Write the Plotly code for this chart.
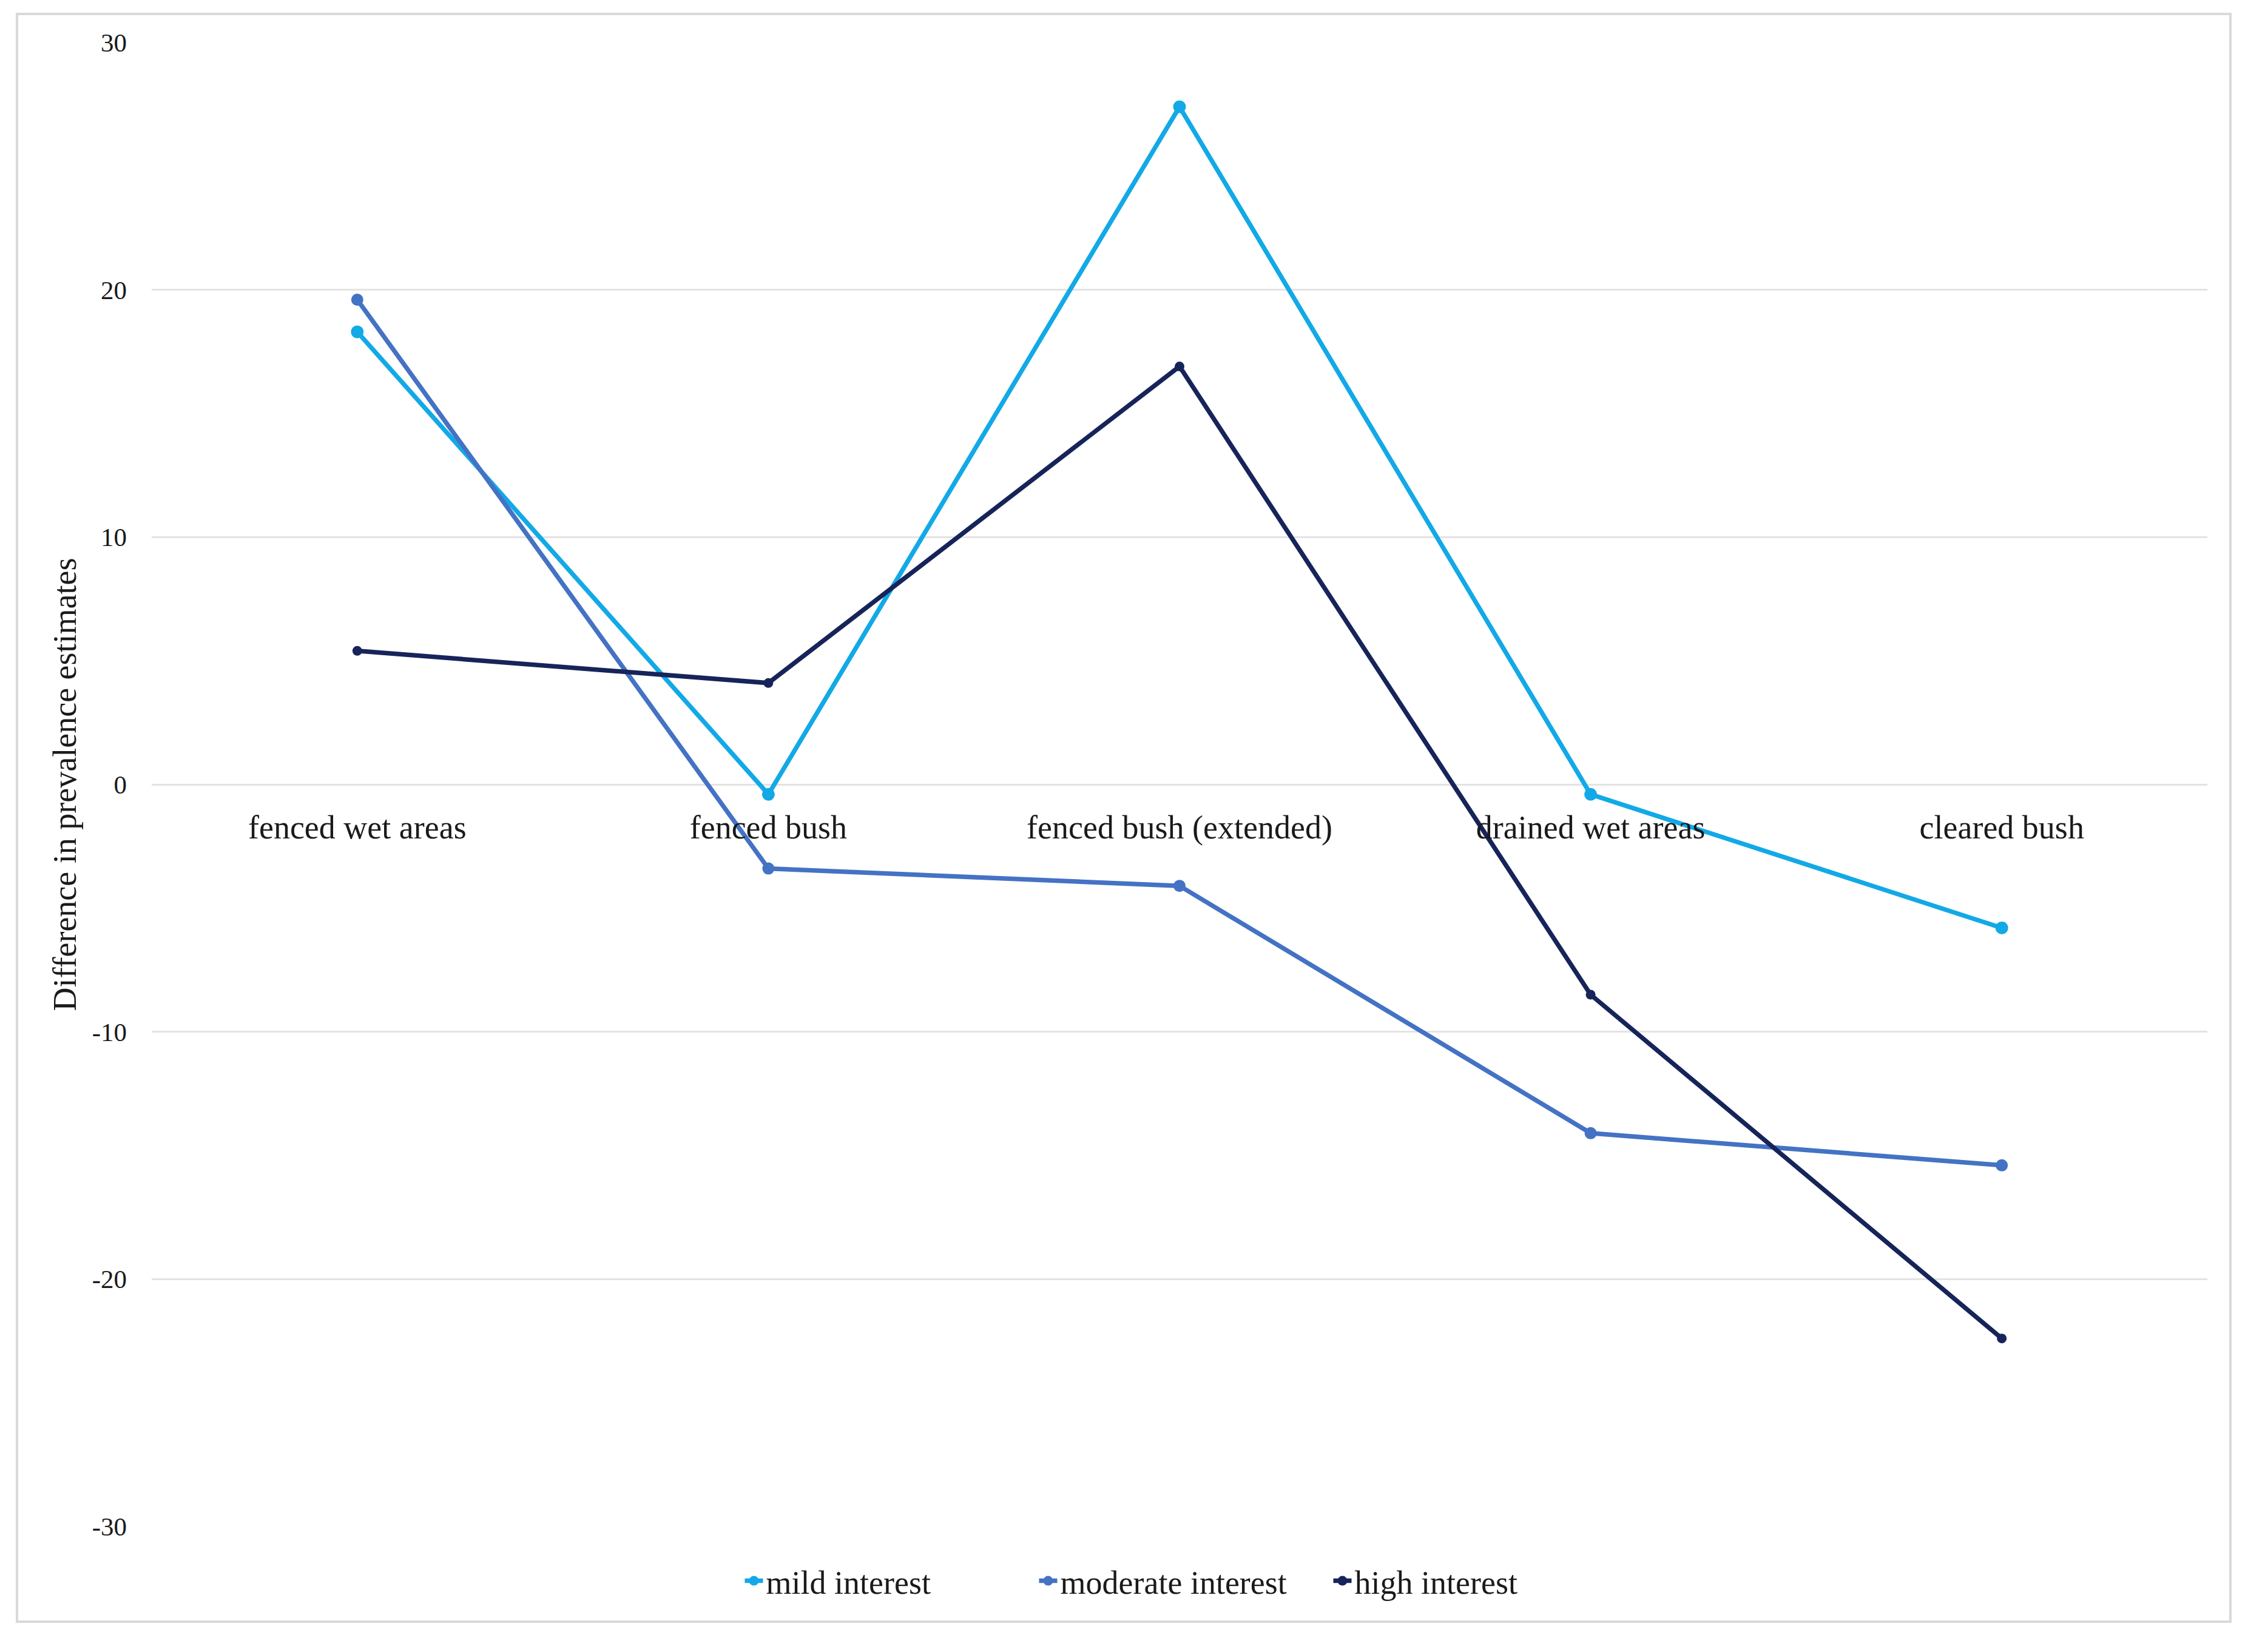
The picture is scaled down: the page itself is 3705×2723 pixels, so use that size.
import plotly.graph_objects as go

categories = ["fenced wet areas", "fenced bush", "fenced bush (extended)", "drained wet areas", "cleared bush"]
mild_interest = [18.3, -0.4, 27.4, -0.4, -5.8]
moderate_interest = [19.6, -3.4, -4.1, -14.1, -15.4]
high_interest = [5.4, 4.1, 16.9, -8.5, -22.4]
y_ticks = [-30, -20, -10, 0, 10, 20, 30]
y_tick_labels = [str(v) for v in y_ticks]

series = [
    ("mild interest", mild_interest, "#12A9E6", 21),
    ("moderate interest", moderate_interest, "#4472C4", 20),
    ("high interest", high_interest, "#16245A", 16),
]

FONT = "Liberation Serif, Times New Roman, serif"

fig = go.Figure()
for name, vals, color, msize in series:
    fig.add_trace(go.Scatter(
        x=categories, y=vals, name=name, mode="lines+markers",
        line=dict(color=color, width=7.5),
        marker=dict(color=color, size=msize, symbol="circle"),
    ))

OFF = 8  # page body margin offset
W, H = 3705, 2723
L, R, T, B = 250 - OFF, 67 + OFF, 70 - OFF, 207 + OFF
pw, ph = W - L - R, H - T - B

def px_x(p):
    return (p - OFF - L) / pw

def px_y(p):
    return (H - B - (p - OFF)) / ph

fig.update_layout(
    width=W, height=H,
    margin=dict(l=L, r=R, t=T, b=B),
    paper_bgcolor="white", plot_bgcolor="white",
    font=dict(family=FONT, size=54, color="#1a1a1a"),
    showlegend=True,
    legend=dict(
        orientation="h", x=px_x(1950), xanchor="center",
        y=px_y(2606), yanchor="middle",
        font=dict(family=FONT, size=54, color="#1a1a1a"),
        itemwidth=30, tracegroupgap=0, bgcolor="rgba(0,0,0,0)",
        entrywidth=440, entrywidthmode="pixels",
    ),
    xaxis=dict(
        type="category", range=[-0.5, 4.5],
        showgrid=False, zeroline=False, showline=False,
        ticks="", anchor="free", position=0.5,
        tickfont=dict(family=FONT, size=54, color="#1a1a1a"),
        ticklabelstandoff=34,
    ),
    yaxis=dict(
        range=[-30, 30], tickvals=y_ticks, ticktext=y_tick_labels,
        showgrid=True, gridcolor="#e3e3e3", gridwidth=3,
        zeroline=False, showline=False, ticks="",
        tickfont=dict(family=FONT, size=43, color="#1a1a1a"),
        ticklabelstandoff=40,
        title=dict(text="Difference in prevalence estimates",
                   font=dict(family=FONT, size=54, color="#1a1a1a"),
                   standoff=8),
    ),
    shapes=[dict(
        type="rect", xref="paper", yref="paper",
        x0=px_x(28), x1=px_x(3676), y0=px_y(2673), y1=px_y(23),
        line=dict(color="#d9d9d9", width=4), fillcolor="rgba(0,0,0,0)",
        layer="below",
    )],
)

fig.write_html("out.html")
